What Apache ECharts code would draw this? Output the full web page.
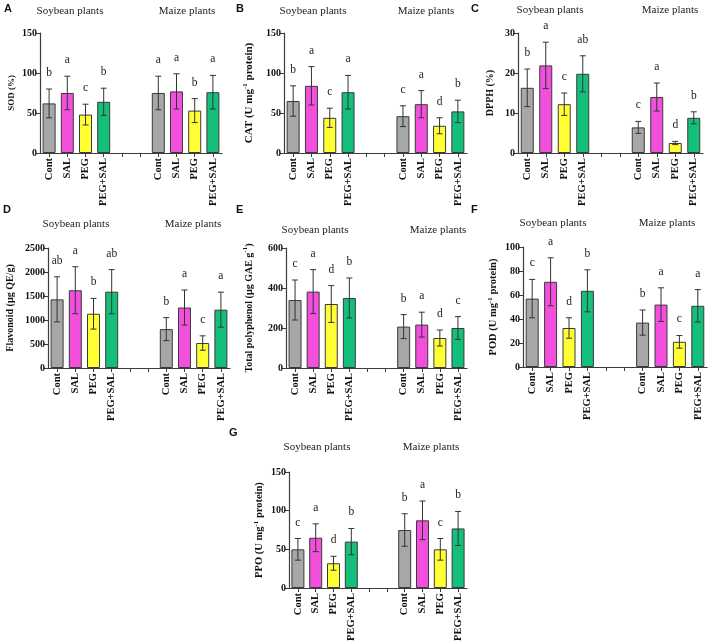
<!DOCTYPE html>
<html><head><meta charset="utf-8">
<script src="https://cdn.jsdelivr.net/npm/echarts@6/dist/echarts.min.js"></script>
<style>html,body{margin:0;padding:0;background:#fff}#c{width:708px;height:644px}</style>
</head><body><div id="c"></div>
<script>
// ---- DATA ----
const categories = ['Cont','SAL','PEG','PEG+SAL','','','Cont','SAL','PEG','PEG+SAL'];
const groupTitles = ['Soybean plants','Maize plants'];
const barColors = ['#a7a7aa','#f24fdc','#ffff33','#13bf7b'];

const sodMean = [62, 75, 48, 64, 75, 77, 53, 76];
const sodErr  = [18, 21, 13, 17, 21, 22, 15, 21];
const sodLetters = ['b','a','c','b','a','a','b','a'];

const catMean = [65, 84, 44, 76, 46, 61, 34, 52];
const catErr  = [19, 24, 12, 21, 13, 17, 10, 14];
const catLetters = ['b','a','c','a','c','a','d','b'];

const dpphMean = [16.3, 21.9, 12.2, 19.8, 6.4, 14, 2.5, 8.8];
const dpphErr  = [4.7, 5.8, 2.8, 4.5, 1.5, 3.5, 0.4, 1.5];
const dpphLetters = ['b','a','c','ab','c','a','d','b'];

const flavMean = [1430, 1620, 1130, 1590, 810, 1260, 520, 1215];
const flavErr  = [470, 490, 320, 460, 240, 365, 150, 365];
const flavLetters = ['ab','a','b','ab','b','a','c','a'];

const polyMean = [340, 382, 320, 350, 207, 217, 150, 200];
const polyErr  = [100, 110, 92, 100, 60, 62, 40, 57];
const polyLetters = ['c','a','d','b','b','a','d','c'];

const podMean = [57, 71, 32.5, 63.5, 37, 52, 21, 51];
const podErr  = [16, 20, 8.5, 17.5, 10.5, 14, 5.3, 13.5];
const podLetters = ['c','a','d','b','b','a','c','a'];

const ppoMean = [50, 65, 32, 60, 75, 87.5, 50, 77];
const ppoErr  = [14, 18, 9, 17, 21, 25, 14, 22];
const ppoLetters = ['c','a','d','b','b','a','c','b'];

const barSlots = [0,1,2,3,6,7,8,9]; // category positions of the 8 bars

// ---- PANELS (data refs + layout) ----
const panels = [
  {tag:'A', mean:sodMean, err:sodErr, letters:sodLetters, max:150, interval:50, name:'SOD (%)', nameSize:9, nameGap:22,
   grid:{left:40, top:33, width:182, height:120}, tagPos:[4,3], titles:[[70,11],[187,11]]},
  {tag:'B', mean:catMean, err:catErr, letters:catLetters, max:150, interval:50, name:'CAT (U mg{sup|-1} protein)', nameSize:11, nameGap:27,
   grid:{left:284, top:33, width:183, height:120}, tagPos:[236,3], titles:[[313,11],[426,11]]},
  {tag:'C', mean:dpphMean, err:dpphErr, letters:dpphLetters, max:30, interval:10, name:'DPPH (%)', nameSize:10, nameGap:21,
   grid:{left:518, top:33, width:185, height:120}, tagPos:[471,3], titles:[[550,10],[670,10]]},
  {tag:'D', mean:flavMean, err:flavErr, letters:flavLetters, max:2500, interval:500, name:'Flavonoid (µg QE/g)', nameSize:10, nameGap:31,
   grid:{left:48, top:248, width:182, height:120}, tagPos:[3,204], titles:[[76,224],[193,224]]},
  {tag:'E', mean:polyMean, err:polyErr, letters:polyLetters, max:600, interval:200, name:'Total polyphenol (µg GAE g{sup|-1})', nameSize:10, nameGap:30,
   grid:{left:286, top:248, width:181, height:120}, tagPos:[236,204], titles:[[315,230],[438,230]]},
  {tag:'F', mean:podMean, err:podErr, letters:podLetters, max:100, interval:20, name:'POD (U mg{sup|-1} protein)', nameSize:10.5, nameGap:22,
   grid:{left:523, top:247, width:184, height:120}, tagPos:[471,204], titles:[[553,223],[667,223]]},
  {tag:'G', mean:ppoMean, err:ppoErr, letters:ppoLetters, max:150, interval:50, name:'PPO (U mg{sup|-1} protein)', nameSize:10.5, nameGap:22,
   grid:{left:289, top:472, width:178, height:120}, tagPos:[229,427], titles:[[317,447],[431,447]]}
];

const SERIF = '"Liberation Serif","Times New Roman",serif';
const SANS = '"Liberation Sans",Arial,sans-serif';
const AXIS_COLOR = '#3c3c3c';

const grids = [], xAxes = [], yAxes = [], series = [], graphics = [];

panels.forEach((p, pi) => {
  grids.push(Object.assign({containLabel:false}, p.grid));
  xAxes.push({
    type:'category', gridIndex:pi, data:categories, boundaryGap:true,
    axisLine:{lineStyle:{color:AXIS_COLOR, width:1.2}},
    axisTick:{show:true, alignWithLabel:true, length:4, lineStyle:{color:AXIS_COLOR}},
    axisLabel:{rotate:90, interval:0, margin:5, fontFamily:SERIF, fontWeight:'bold', fontSize:10.5, color:'#111'}
  });
  yAxes.push({
    type:'value', gridIndex:pi, min:0, max:p.max, interval:p.interval,
    splitLine:{show:false},
    axisLine:{show:true, lineStyle:{color:AXIS_COLOR, width:1.2}},
    axisTick:{show:true, length:4, lineStyle:{color:AXIS_COLOR}},
    axisLabel:{margin:3, fontFamily:SERIF, fontWeight:'bold', fontSize:10, color:'#111', formatter:v => String(v)},
    name:p.name, nameLocation:'middle', nameRotate:90, nameGap:p.nameGap,
    nameTextStyle:{fontFamily:SERIF, fontWeight:'bold', fontSize:p.nameSize, color:'#111', lineHeight:p.nameSize+4,
      rich:{sup:{fontFamily:SERIF, fontWeight:'bold', fontSize:Math.round(p.nameSize*0.65), verticalAlign:'top', lineHeight:p.nameSize+4, color:'#111'}}}
  });
  const barData = categories.map(() => null);
  barSlots.forEach((slot, k) => {
    barData[slot] = {value:p.mean[k], itemStyle:{color:barColors[k % 4]}};
  });
  series.push({
    type:'bar', xAxisIndex:pi, yAxisIndex:pi, data:barData, barWidth:13,
    itemStyle:{borderColor:'#3a3a3a', borderWidth:1}, animation:false
  });
  const errData = barSlots.map((slot, k) => [slot, p.mean[k], p.err[k]]);
  const letters = p.letters;
  series.push({
    type:'custom', xAxisIndex:pi, yAxisIndex:pi, data:errData, z:5, animation:false,
    renderItem:(params, api) => {
      const i = api.value(0), m = api.value(1), e = api.value(2);
      const top = api.coord([i, m + e]);
      const bot = api.coord([i, m - e]);
      const cap = 3;
      const ls = {stroke:'#333', lineWidth:1};
      return {type:'group', children:[
        {type:'line', shape:{x1:top[0], y1:top[1], x2:bot[0], y2:bot[1]}, style:ls},
        {type:'line', shape:{x1:top[0]-cap, y1:top[1], x2:top[0]+cap, y2:top[1]}, style:ls},
        {type:'line', shape:{x1:bot[0]-cap, y1:bot[1], x2:bot[0]+cap, y2:bot[1]}, style:ls},
        {type:'text', x:top[0], y:top[1]-16, style:{text:letters[params.dataIndex], fill:'#222',
          font:'11.5px ' + SERIF, align:'center', verticalAlign:'middle'}}
      ]};
    }
  });
  graphics.push({type:'text', left:p.tagPos[0], top:p.tagPos[1],
    style:{text:p.tag, fill:'#111', font:'bold 11px ' + SANS}});
  p.titles.forEach((t, k) => {
    graphics.push({type:'text', x:t[0], y:t[1],
      style:{text:groupTitles[k], fill:'#222', font:'11px ' + SERIF, align:'center', verticalAlign:'middle'}});
  });
});

const chart = echarts.init(document.getElementById('c'), null, {renderer:'canvas'});
chart.setOption({
  animation:false, backgroundColor:'#fff',
  grid:grids, xAxis:xAxes, yAxis:yAxes, series:series, graphic:graphics
});
</script>
</body></html>
